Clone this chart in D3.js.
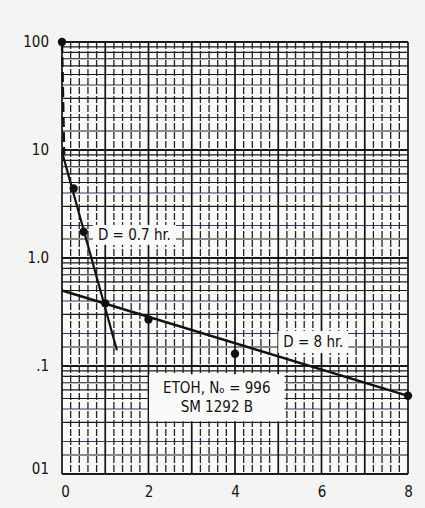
<!DOCTYPE html>
<html>
<head>
<meta charset="utf-8">
<script src="https://cdn.jsdelivr.net/npm/d3@7"></script>
<style>
  body { margin: 0; background: #f4f4f2; }
  svg { display: block; }
  text { font-family: "DejaVu Sans Condensed", "Liberation Sans", sans-serif; fill: #111; }
</style>
</head>
<body>
<div id="chart"></div>
<script>
// data
var timeTicks = [0, 2, 4, 6, 8];
var survTicks = [100, 10, 1, 0.1, 0.01];
var survLabels = ["100", "10", "1.0", ".1", "01"];

var pointTimes = [0, 0.27, 0.5, 1, 2, 4, 8];
var pointValues = [100, 4.4, 1.75, 0.38, 0.27, 0.13, 0.053];

var dashTimes = [0, 0.05];
var dashValues = [100, 9];
var fastTimes = [0, 1.27];
var fastValues = [9.6, 0.14];
var slowTimes = [0, 8];
var slowValues = [0.5, 0.053];

var svg_w = 425, svg_h = 508;
var margin = {top: 42, right: 17, bottom: 34, left: 62};

var svg = d3.select("#chart").append("svg")
    .attr("width", svg_w)
    .attr("height", svg_h);

var xScale = d3.scaleLinear().domain([0, 8]).range([margin.left, svg_w - margin.right]);
var yScale = d3.scaleLog().domain([0.01, 100]).range([svg_h - margin.bottom, margin.top]);

//paper background
svg.append("rect")
    .attr("x", xScale(0)).attr("y", yScale(100))
    .attr("width", xScale(8) - xScale(0))
    .attr("height", yScale(0.01) - yScale(100))
    .attr("fill", "#fafaf9");

//horizontal log grid
var hLines = [];
[0.01, 0.1, 1, 10].forEach(function(dec) {
    for (var k = 1; k < 10; k++) hLines.push({v: dec * k, k: k});
    hLines.push({v: dec * 1.5, k: 1.5});
});
hLines.push({v: 100, k: 1});

svg.append("g").selectAll("line")
    .data(hLines).enter().append("line")
    .attr("x1", xScale(0)).attr("x2", xScale(8))
    .attr("y1", function(d) { return yScale(d.v); })
    .attr("y2", function(d) { return yScale(d.v); })
    .attr("stroke", function(d) { return (d.k == 2 || d.k == 4) ? "#4a2f66" : "#1a1a1a"; })
    .attr("stroke-width", function(d) { return d.k == 1 ? 2 : 1.2; });

//vertical grid, minor every 0.2
var vMinor = d3.range(0, 40).map(function(i) { return i / 5; }).filter(function(t) { return Math.abs(t - Math.round(t)) > 0.01; });
svg.append("g").selectAll("line")
    .data(vMinor).enter().append("line")
    .attr("x1", function(d) { return xScale(d); })
    .attr("x2", function(d) { return xScale(d); })
    .attr("y1", yScale(100)).attr("y2", yScale(0.01))
    .attr("stroke", "#222")
    .attr("stroke-width", 1.3)
    .attr("stroke-dasharray", "7,2");

svg.append("g").selectAll("line")
    .data(d3.range(0, 9)).enter().append("line")
    .attr("x1", function(d) { return xScale(d); })
    .attr("x2", function(d) { return xScale(d); })
    .attr("y1", yScale(100)).attr("y2", yScale(0.01))
    .attr("stroke", "#111")
    .attr("stroke-width", 1.7);

//axes labels
var yAxis = svg.append("g")
    .attr("transform", "translate(" + (xScale(0) - 3) + ",0)")
    .call(d3.axisLeft(yScale).tickValues(survTicks).tickSize(0)
        .tickFormat(function(d, i) { return survLabels[i]; }));
yAxis.select(".domain").remove();
yAxis.selectAll("text").style("font-size", "15px").attr("x", -10)
    .attr("dy", function(d) { return d == 0.01 ? "-0.05em" : "0.32em"; })
    .style("font-family", "'DejaVu Sans Condensed', sans-serif");

var xAxis = svg.append("g")
    .attr("transform", "translate(0," + yScale(0.01) + ")")
    .call(d3.axisBottom(xScale).tickValues(timeTicks).tickSize(0).tickFormat(d3.format("d")));
xAxis.select(".domain").remove();
xAxis.selectAll("text").style("font-size", "15px").attr("y", 12)
    .attr("dx", function(d) { return d == 0 ? "3px" : "0"; })
    .style("font-family", "'DejaVu Sans Condensed', sans-serif");

//fitted lines
var line = d3.line()
    .x(function(d) { return xScale(d[0]); })
    .y(function(d) { return yScale(d[1]); });

svg.append("path")
    .attr("d", line(d3.zip(dashTimes, dashValues)))
    .attr("fill", "none").attr("stroke", "#111").attr("stroke-width", 2.4)
    .attr("stroke-dasharray", "10,5");

svg.append("path")
    .attr("d", line(d3.zip(fastTimes, fastValues)))
    .attr("fill", "none").attr("stroke", "#111").attr("stroke-width", 2.2);

svg.append("path")
    .attr("d", line(d3.zip(slowTimes, slowValues)))
    .attr("fill", "none").attr("stroke", "#111").attr("stroke-width", 2.4);

//labels with white backing
function label(tx, vy, lines, anchor, pad, dx) {
    var g = svg.append("g");
    var bg = g.append("rect").attr("fill", "#fafaf9");
    var t = g.append("text")
        .attr("x", xScale(tx) + dx).attr("y", yScale(vy))
        .attr("text-anchor", anchor)
        .style("font-size", "15px");
    lines.forEach(function(s, i) {
        t.append("tspan").attr("x", xScale(tx) + dx).attr("dy", i == 0 ? 0 : "1.27em").text(s);
    });
    var b = t.node().getBBox();
    bg.attr("x", b.x - pad[0]).attr("y", b.y - pad[1])
      .attr("width", b.width + pad[0] * 2).attr("height", b.height + pad[1] * 2);
    return g;
}

label(0.83, 1.47, ["D = 0.7 hr."], "start", [5, 1], 0);
label(5.0, 0.15, ["D = 8 hr."], "start", [5, 2], 5);
label(3.58, 0.056, ["ETOH, N\u2092 = 996", "SM 1292 B"], "middle", [14, 5], 0);

//data points
svg.append("g").selectAll("circle")
    .data(d3.zip(pointTimes, pointValues)).enter().append("circle")
    .attr("cx", function(d) { return xScale(d[0]); })
    .attr("cy", function(d) { return yScale(d[1]); })
    .attr("r", 4.2)
    .attr("fill", "#111");
</script>
</body>
</html>
